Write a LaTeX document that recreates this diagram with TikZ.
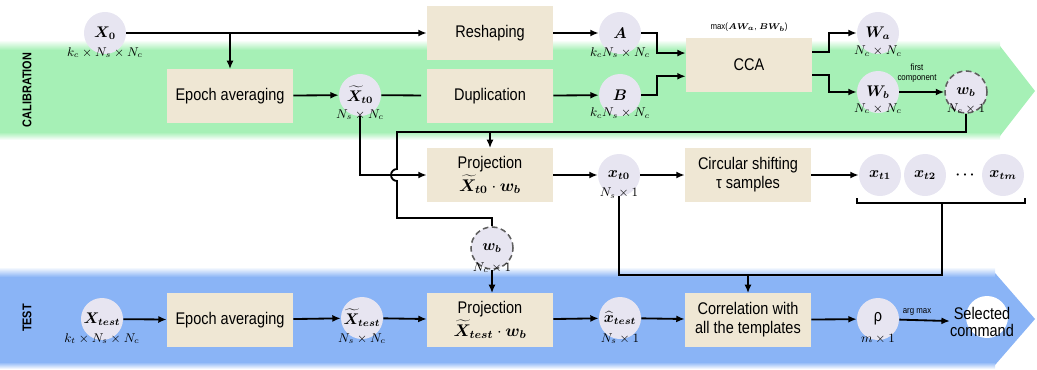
\documentclass[tikz,border=0pt]{standalone}
\usepackage{fontspec}
\setmainfont[FakeStretch=0.86]{Liberation Sans}
\usepackage{bm}
\usetikzlibrary{arrows.meta, positioning}

\definecolor{calgreen}{RGB}{166,240,182}
\definecolor{testblue}{RGB}{138,180,246}
\definecolor{boxfill}{RGB}{239,231,212}
\definecolor{ballfill}{RGB}{231,229,241}
\definecolor{dashgray}{RGB}{95,95,95}

\begin{document}
\begin{tikzpicture}[x=0.025cm, y=-0.025cm,
  wire/.style={line width=1.3pt},
  arr/.style={wire, -{Latex[length=6pt,width=5pt]}},
  blk/.style={rectangle, fill=boxfill, minimum width=3.15cm, minimum height=1.33cm,
    align=center, inner sep=2pt, font=\fontsize{12}{13.5}\selectfont},
  ball/.style={circle, fill=ballfill, minimum size=1.05cm, inner sep=0pt,
    font=\fontsize{10.5}{12}\selectfont},
  dball/.style={ball, draw=dashgray, line width=1.1pt, dash pattern=on 4pt off 2.5pt},
  dim/.style={font=\fontsize{9}{10}\selectfont, inner sep=0pt},
  tag/.style={font=\fontsize{6.5}{7}\selectfont, inner sep=0pt, align=center},
  band/.style={font=\bfseries\fontsize{9}{10}\selectfont, rotate=90}]

\useasboundingbox (0,0) rectangle (1037,369);

% bands
\fill [calgreen] (0,46) -- (1000,46) -- (1035,91) -- (1000,136) -- (0,136) -- cycle;
\shade [top color=white, bottom color=calgreen] (0,40) rectangle (1000,50);
\shade [top color=calgreen, bottom color=white] (0,132) rectangle (1000,140);
\fill [testblue] (0,273) -- (995,273) -- (1035,319) -- (995,365) -- (0,365) -- cycle;
\shade [top color=white, bottom color=testblue] (0,267) rectangle (995,277);
\shade [top color=testblue, bottom color=white] (0,362) rectangle (995,369);
\node [band] (calib) at (27,90) {CALIBRATION};
\node [band] (test) at (27,318) {TEST};

% calibration
\node [ball] (x0) at (105,33) {$\bm{X_0}$};
\node [dim] (x0d) at ([yshift=-14pt]x0.center) {$k_c\times N_s\times N_c$};
\node [blk] (epc) at (230,96) {Epoch averaging};
\node [ball] (xt0) at (360,95) {$\widetilde{\bm{X}}_{\bm{t0}}$};
\node [dim] (xt0d) at ([yshift=-14pt]xt0.center) {$N_s\times N_c$};
\node [blk] (resh) at (490,33) {Reshaping};
\node [blk] (dup) at (490,96) {Duplication};
\node [ball] (a) at (620,33) {$\bm{A}$};
\node [dim] (ad) at ([yshift=-14pt]a.center) {$k_cN_s\times N_c$};
\node [ball] (b) at (620,95) {$\bm{B}$};
\node [dim] (bd) at ([yshift=-13pt]b.center) {$k_cN_s\times N_c$};
\node [blk] (cca) at (749,65) {CCA};
\node [tag] (ccamax) at (749,27) {max($\bm{AW_a}$, $\bm{BW_b}$)};
\node [ball] (wa) at (878,33) {$\bm{W_a}$};
\node [dim] (wad) at ([yshift=-13pt]wa.center) {$N_c\times N_c$};
\node [ball] (wb) at (878,92) {$\bm{W_b}$};
\node [dim] (wbd) at ([yshift=-12pt]wb.center) {$N_c\times N_c$};
\node [dball] (wbc) at (966,92) {$\bm{w_b}$};
\node [dim] (wbcd) at ([yshift=-12pt]wbc.center) {$N_c\times 1$};
\node [tag] (first) at (917,73) {first\\component};

\node [blk] (proj) at (490,175) {Projection\\[1.5pt]$\widetilde{\bm{X}}_{\bm{t0}}\cdot\bm{w_b}$};
\node [ball] (xp) at (619,175) {$\bm{x_{t0}}$};
\node [dim] (xpd) at ([yshift=-13pt]xp.center) {$N_s\times 1$};
\node [blk] (circ) at (748,175) {Circular shifting\\τ samples};
\node [ball] (xt1) at (880,175) {$\bm{x_{t1}}$};
\node [ball] (xt2) at (925,175) {$\bm{x_{t2}}$};
\node [inner sep=0pt] (dots) at (965,175) {$\bm{\cdots}$};
\node [ball] (xtm) at (1003,175) {$\bm{x_{tm}}$};

\node [dball] (wbt) at (492,248) {$\bm{w_b}$};
\node [dim] (wbtd) at ([yshift=-14pt]wbt.center) {$N_c\times 1$};

% test
\node [ball] (xte) at (102,319) {$\bm{X_{test}}$};
\node [dim] (xted) at ([yshift=-14pt]xte.center) {$k_t\times N_s\times N_c$};
\node [blk] (epct) at (230,320) {Epoch averaging};
\node [ball] (xtte) at (362,318) {$\widetilde{\bm{X}}_{\bm{test}}$};
\node [dim] (xtted) at ([yshift=-14.5pt]xtte.center) {$N_s\times N_c$};
\node [blk] (projt) at (490,320) {Projection\\[1.5pt]$\widetilde{\bm{X}}_{\bm{test}}\cdot\bm{w_b}$};
\node [ball] (xhte) at (620,318) {$\widehat{\bm{x}}_{\bm{test}}$};
\node [dim] (xhted) at ([yshift=-14.5pt]xhte.center) {$N_s\times 1$};
\node [blk] (corr) at (748,320) {Correlation with\\all the templates};
\node [ball, font=\fontsize{12}{13}\selectfont] (rho) at (878,319) {ρ};
\node [dim] (rhod) at ([yshift=-14pt]rho.center) {$m\times 1$};
\node [ball, fill=white] (selc) at (987,317) {};
\node [inner sep=0pt, align=center, font=\fontsize{12}{12.5}\selectfont] (sel) at (982,322) {Selected\\command};
\node [tag] (argmax) at (917,312) {arg max};

% connectors
\draw [arr] (x0) -- (resh);
\draw [arr] (epc.north |- resh.west) -- (epc.north);
\draw [arr] (epc) -- (xt0);
\draw [wire, shorten >=4pt] (xt0) -- (dup);
\draw [arr] (resh) -- (a);
\draw [arr] (dup) -- (b);
\draw [arr] (a.east) -- ++(16,0) |- ([yshift=8.5pt]cca.west);
\draw [arr] (b.east) -- ++(16,0) |- ([yshift=-8pt]cca.west);
\draw [arr] ([yshift=9pt]cca.east) -- ++(17,0) |- (wa.west);
\draw [arr] ([yshift=-7pt]cca.east) -- ++(17,0) |- (wb.west);
\draw [arr] (wb) -- (wbc);

\coordinate (hop) at (397,132);
\coordinate (hopa) at (397,169);
\coordinate (hopb) at (397,218);
\draw [wire] (wbc.south) |- (hop) -- (hopa) arc[start angle=270, end angle=90, radius=6] -- (hopb) -| (wbt.north);
\draw [arr] (proj.north |- hop) -- (proj.north);
\draw [arr] (xt0.south) |- (proj.west);
\draw [arr] (proj) -- (xp);
\draw [arr] (xp) -- (circ);
\draw [arr] (circ) -- (xt1);

\draw [wire] (857,198) -- (857,203) -- (1025,203) -- (1025,198);
\coordinate (brk) at (942,203);
\coordinate (bus) at (942,275);
\draw [wire] (brk) -- (bus) -| (xp.south);
\draw [arr] (corr.north |- bus) -- (corr.north);
\draw [arr] (wbt.south) -- (wbt.south |- projt.north);

\draw [arr] (xte) -- (epct);
\draw [arr] (epct) -- (xtte);
\draw [arr] (xtte) -- (projt);
\draw [arr] (projt) -- (xhte);
\draw [arr] (xhte) -- (corr);
\draw [arr] (corr) -- (rho);
\draw [arr] (rho) -- (sel);

\end{tikzpicture}
\end{document}
